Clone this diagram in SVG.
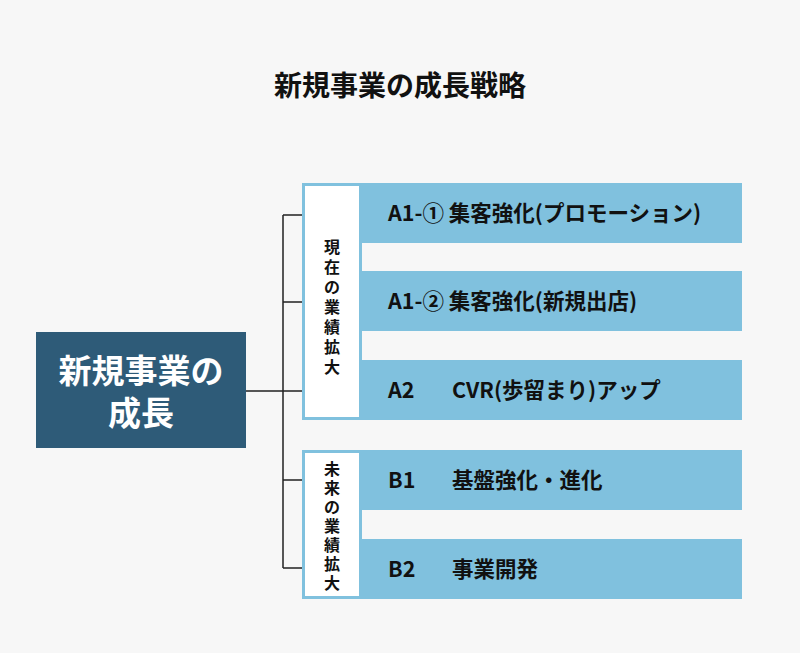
<svg xmlns="http://www.w3.org/2000/svg" width="800" height="653" viewBox="0 0 800 653">
<style>
text{font-family:"Noto Sans CJK JP","Noto Sans",sans-serif;font-weight:bold;fill:#111}
.bar{fill:#80C1DE}
.vb{fill:#fff;stroke:#80C1DE;stroke-width:3}
.ln{stroke:#222;stroke-width:1.5;fill:none}
.lb{font-size:21.5px}
.vt{font-size:16px}
</style>
<rect width="800" height="653" fill="#F7F7F7"/>
<text x="400" y="96" text-anchor="middle" font-size="28">新規事業の成長戦略</text>
<g id="connectors">
<path class="ln" d="M246 391H283M283 215V568M283 215H302M283 302H302M283 391H302M283 480H302M283 568H302"/>
</g>
<g id="root"><rect x="36" y="332" width="210" height="116" fill="#2E5B78"/>
<text x="141" y="383" text-anchor="middle" font-size="33" style="fill:#fff">新規事業の</text>
<text x="141" y="425" text-anchor="middle" font-size="33" style="fill:#fff">成長</text></g>
<g id="A11"><rect class="bar" x="302" y="183" width="440" height="60"/><text class="lb" x="388" y="221">A1-① 集客強化(プロモーション)</text></g>
<g id="A12"><rect class="bar" x="302" y="271" width="440" height="60"/><text class="lb" x="388" y="309">A1-② 集客強化(新規出店)</text></g>
<g id="A2"><rect class="bar" x="302" y="360" width="440" height="60"/><text class="lb" x="388" y="398">A2</text><text class="lb" x="452" y="398">CVR(歩留まり)アップ</text></g>
<g id="B1"><rect class="bar" x="302" y="450" width="440" height="60"/><text class="lb" x="388" y="488">B1</text><text class="lb" x="452" y="488">基盤強化・進化</text></g>
<g id="B2"><rect class="bar" x="302" y="539" width="440" height="60"/><text class="lb" x="388" y="577">B2</text><text class="lb" x="452" y="577">事業開発</text></g>
<g id="current"><rect class="vb" x="303.5" y="184.5" width="57" height="234"/>
<text class="vt" text-anchor="middle"><tspan x="332" y="253">現</tspan><tspan x="332" y="273">在</tspan><tspan x="332" y="293">の</tspan><tspan x="332" y="313">業</tspan><tspan x="332" y="333">績</tspan><tspan x="332" y="353">拡</tspan><tspan x="332" y="373">大</tspan></text></g>
<g id="future"><rect class="vb" x="303.5" y="451.5" width="57" height="146"/>
<text class="vt" text-anchor="middle"><tspan x="332" y="475">未</tspan><tspan x="332" y="494">来</tspan><tspan x="332" y="513">の</tspan><tspan x="332" y="532">業</tspan><tspan x="332" y="551">績</tspan><tspan x="332" y="570">拡</tspan><tspan x="332" y="589">大</tspan></text></g>
</svg>
